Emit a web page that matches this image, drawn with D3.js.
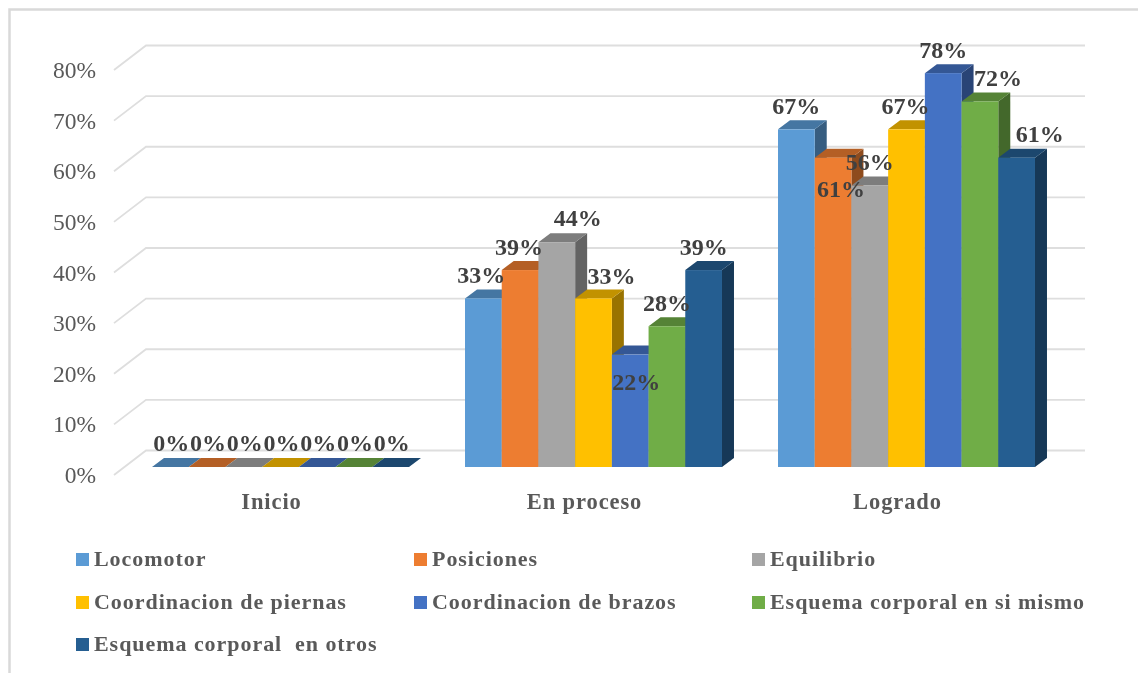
<!DOCTYPE html>
<html>
<head>
<meta charset="utf-8">
<script src="https://cdn.jsdelivr.net/npm/d3@7"></script>
<style>
  html, body { margin: 0; padding: 0; background: #fff; }
  svg { display: block; font-family: "Liberation Serif", serif; filter: blur(0.45px); }
  text { white-space: pre; }
</style>
</head>
<body>
<div id="chart"></div>
<script>
var categories = ['Inicio', 'En proceso', 'Logrado']
var seriesNames = ['Locomotor', 'Posiciones', 'Equilibrio', 'Coordinacion de piernas',
    'Coordinacion de brazos', 'Esquema corporal en si mismo', 'Esquema corporal  en otros']
var inicioValues = [0, 0, 0, 0, 0, 0, 0]
var procesoValues = [33.3, 38.9, 44.4, 33.3, 22.2, 27.8, 38.9]
var logradoValues = [66.7, 61.1, 55.6, 66.7, 77.8, 72.2, 61.1]
var seriesColors = ['#5b9bd5', '#ed7d31', '#a5a5a5', '#ffc000', '#4472c4', '#70ad47', '#255e91']
var yTicks = [0, 10, 20, 30, 40, 50, 60, 70, 80]

// hand placed labels in the original, [dx, dy] from the default spot over the bar
var inicioNudge = [[1, 0], [1, 0], [1, 0], [1, 0], [1, 0], [1, 0], [1, 0]]
var procesoNudge = [[-2, 1], [-1, 1], [21, 0], [18, 2], [6, 52], [0, 1], [0, 1]]
var logradoNudge = [[0, 1], [8, 56], [0, 1], [-1, 1], [0, 1], [18, 1], [23, 1]]

var groupValues = [inicioValues, procesoValues, logradoValues]
var groupNudge = [inicioNudge, procesoNudge, logradoNudge]

var width = 1138, height = 673
var wallDx = 32, wallDy = -24.5   // floor depth of the 3d box
var barDx = 12, barDy = -9        // depth of one bar
var shiftX = 10, shiftY = -8      // bars stand in the middle of the floor

var svg = d3.select('#chart').append('svg')
    .attr('width', width)
    .attr('height', height)

svg.append('rect')
    .attr('x', 9.5).attr('y', 9.5)
    .attr('width', width + 20).attr('height', height + 20)
    .attr('fill', 'none')
    .attr('stroke', '#d9d9d9')
    .attr('stroke-width', 2.5)

var x = d3.scaleBand().domain(categories).range([114, 1053]).paddingInner(0.179).paddingOuter(0.0895)
var x1 = d3.scaleBand().domain(d3.range(7)).range([0, x.bandwidth()])
var y = d3.scaleLinear().domain([0, 80]).range([475, 70])

// walls
var line = d3.line()
var grid = svg.append('g')
yTicks.forEach(function(t) {
    grid.append('path')
        .attr('d', line([[114, y(t)], [114 + wallDx, y(t) + wallDy], [1053 + wallDx, y(t) + wallDy]]))
        .attr('fill', 'none')
        .attr('stroke', '#dedede')
        .attr('stroke-width', 1.8)
})

function shade(c, k) {
    var r = d3.rgb(c)
    return d3.rgb(r.r * k, r.g * k, r.b * k).formatHex()
}

// bars, painted left to right so the next bar hides the side of the previous one
var bars = svg.append('g')
groupValues.forEach(function(vals, g) {
    vals.forEach(function(v, i) {
        var x0 = x(categories[g]) + x1(i) + shiftX
        var x2 = x0 + x1.bandwidth()
        var yTop = y(v) + shiftY
        var yBot = y(0) + shiftY
        var bar = bars.append('g')
        bar.append('path') // side
            .attr('d', line([[x2, yTop], [x2 + barDx, yTop + barDy], [x2 + barDx, yBot + barDy], [x2, yBot]]) + 'Z')
            .attr('fill', shade(seriesColors[i], 0.6))
        bar.append('path') // top
            .attr('d', line([[x0, yTop], [x0 + barDx, yTop + barDy], [x2 + barDx, yTop + barDy], [x2, yTop]]) + 'Z')
            .attr('fill', shade(seriesColors[i], 0.76))
        bar.append('rect')
            .attr('x', x0).attr('y', yTop)
            .attr('width', x1.bandwidth()).attr('height', yBot - yTop)
            .attr('fill', seriesColors[i])
    })
})

// data labels go over all bars
var labels = svg.append('g')
groupValues.forEach(function(vals, g) {
    vals.forEach(function(v, i) {
        labels.append('text')
            .attr('x', x(categories[g]) + x1(i) + x1.bandwidth() / 2 + shiftX + groupNudge[g][i][0])
            .attr('y', y(v) + shiftY - 16.5 + groupNudge[g][i][1])
            .attr('text-anchor', 'middle')
            .attr('font-size', 24)
            .attr('font-weight', 'bold')
            .attr('fill', '#404040')
            .text(Math.round(v) + '%')
    })
})

// axes
var yAxis = svg.append('g')
    .attr('transform', 'translate(96,0)')
    .call(d3.axisLeft(y).tickValues(yTicks).tickSize(0).tickPadding(0).tickFormat(function(d) { return d + '%' }))
yAxis.select('.domain').remove()
yAxis.selectAll('text')
    .attr('font-family', '"Liberation Serif", serif')
    .attr('font-size', 23.5)
    .attr('fill', '#595959')

var xAxis = svg.append('g')
    .attr('transform', 'translate(1,493)')
    .call(d3.axisBottom(x).tickSize(0).tickPadding(0))
xAxis.select('.domain').remove()
xAxis.selectAll('text')
    .attr('font-family', '"Liberation Serif", serif')
    .attr('font-size', 22.5)
    .attr('font-weight', 'bold')
    .attr('letter-spacing', 0.9)
    .attr('fill', '#595959')

// legend
var legendCols = [76, 414, 752], legendRows = [553, 596, 638]
var legend = svg.append('g')
seriesNames.forEach(function(name, i) {
    var lx = legendCols[i % 3], ly = legendRows[Math.floor(i / 3)]
    legend.append('rect')
        .attr('x', lx).attr('y', ly)
        .attr('width', 13).attr('height', 13)
        .attr('fill', seriesColors[i])
    legend.append('text')
        .attr('x', lx + 18).attr('y', ly + 13)
        .attr('font-size', 22)
        .attr('font-weight', 'bold')
        .attr('letter-spacing', 0.95)
        .attr('fill', '#595959')
        .text(name)
})
</script>
</body>
</html>
